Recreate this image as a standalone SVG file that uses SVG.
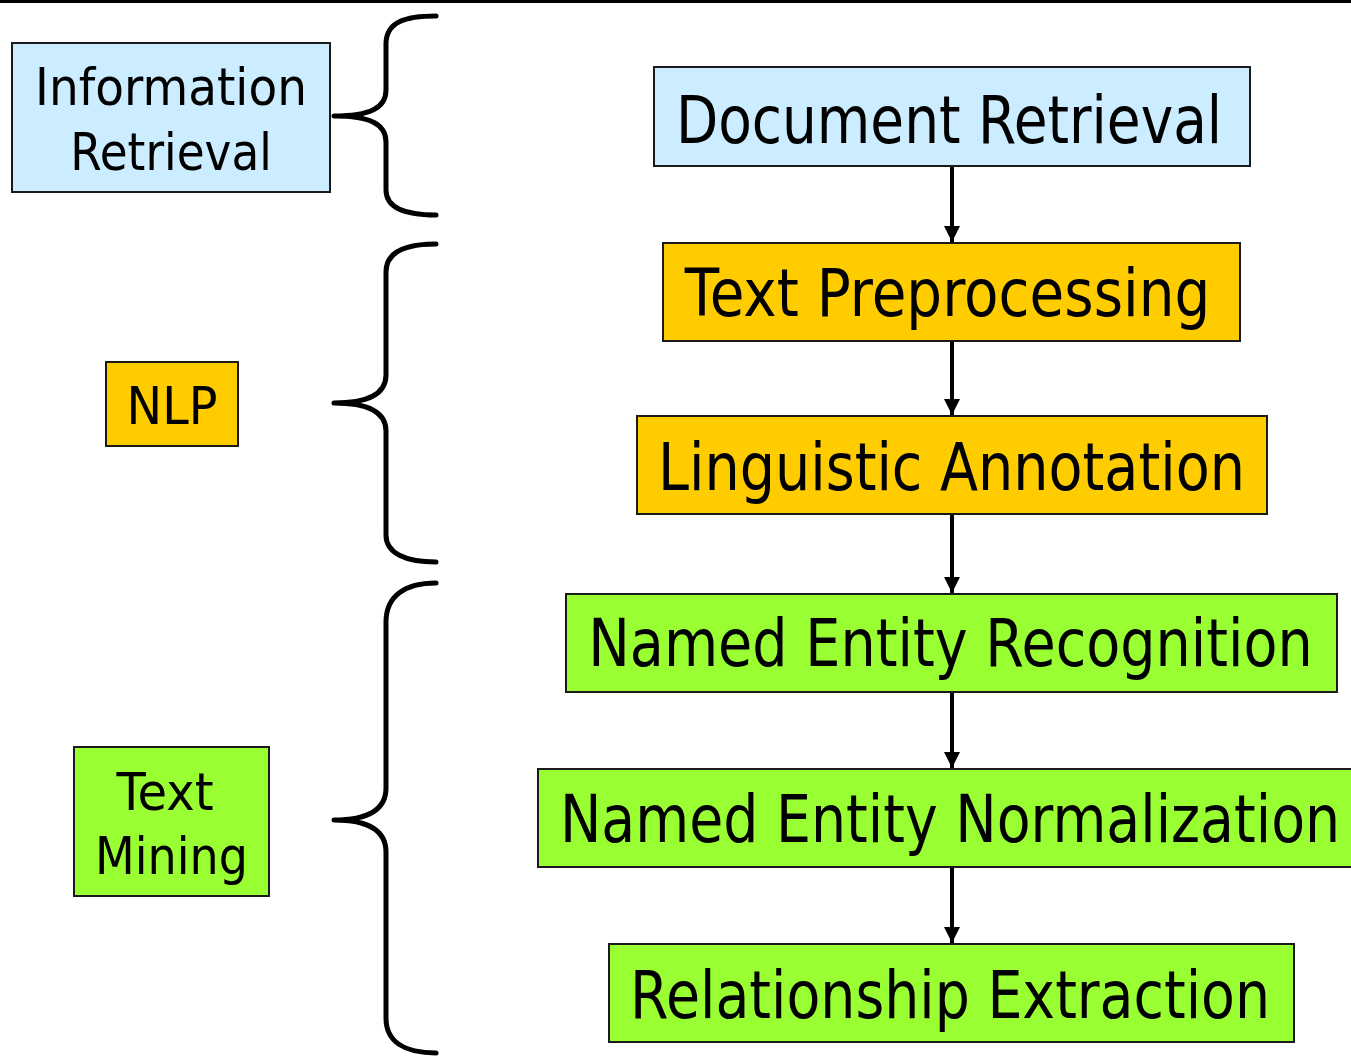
<svg xmlns="http://www.w3.org/2000/svg" width="1351" height="1056" viewBox="0 0 1351 1056">
<style>
.box{stroke:#1a1a1a;stroke-width:2}
.blue{fill:#CCECFF}
.orange{fill:#FFCC00}
.green{fill:#99FF33}
.t{font-family:"DejaVu Sans",sans-serif;fill:#000;text-anchor:middle}
.big{font-size:66px}
.small{font-size:52px}
.brace{fill:none;stroke:#000;stroke-width:5;stroke-linecap:round;stroke-linejoin:round}
.conn{stroke:#000;stroke-width:4;fill:none}
</style>
<defs>
<marker id="ah" markerWidth="16" markerHeight="18" refX="16" refY="8" orient="auto" markerUnits="userSpaceOnUse" viewBox="0 0 16 16">
<path d="M0,0 L16,8 L0,16 Z" fill="#000"/>
</marker>
</defs>
<rect x="0" y="0" width="1351" height="3" fill="#000"/>
<g id="braces">
<path class="brace" d="M436,16 C405,16 386,22 386,44 L386,90 C386,108 370,116 334,116 C370,116 386,124 386,142 L386,190 C386,208 405,215 436,215"/>
<path class="brace" d="M436,244 C405,244 386,252 386,272 L386,375 C386,393 370,403 334,403 C370,403 386,413 386,431 L386,535 C386,553 405,562 436,562"/>
<path class="brace" d="M436,583 C405,583 386,596 386,622 L386,788 C386,808 370,820 334,820 C370,820 386,832 386,852 L386,1018 C386,1042 405,1053 436,1053"/>
</g>
<g id="n-info">
<rect class="box blue" x="12" y="43" width="318" height="149"/>
<text class="t small" transform="translate(171,105) scale(0.9,1)" textLength="302" lengthAdjust="spacingAndGlyphs">Information</text>
<text class="t small" transform="translate(171,170) scale(0.9,1)" textLength="224" lengthAdjust="spacingAndGlyphs">Retrieval</text>
</g>
<g id="n-nlp">
<rect class="box orange" x="106" y="362" width="132" height="84"/>
<text class="t small" transform="translate(172,424) scale(0.9,1)" textLength="101" lengthAdjust="spacingAndGlyphs">NLP</text>
</g>
<g id="n-tm">
<rect class="box green" x="74" y="747" width="195" height="149"/>
<text class="t small" transform="translate(165,810) scale(0.9,1)" textLength="108" lengthAdjust="spacingAndGlyphs">Text</text>
<text class="t small" transform="translate(171.5,874) scale(0.9,1)" textLength="170" lengthAdjust="spacingAndGlyphs">Mining</text>
</g>
<g id="n-doc">
<rect class="box blue" x="654" y="67" width="596" height="99"/>
<text class="t big" transform="translate(949,143) scale(0.83,1)" textLength="658" lengthAdjust="spacingAndGlyphs">Document Retrieval</text>
</g>
<g id="n-pre">
<rect class="box orange" x="663" y="243" width="577" height="98"/>
<text class="t big" transform="translate(947.5,316) scale(0.83,1)" textLength="633" lengthAdjust="spacingAndGlyphs">Text Preprocessing</text>
</g>
<g id="n-ling">
<rect class="box orange" x="637" y="416" width="630" height="98"/>
<text class="t big" transform="translate(951.5,490) scale(0.83,1)" textLength="707" lengthAdjust="spacingAndGlyphs">Linguistic Annotation</text>
</g>
<g id="n-ner">
<rect class="box green" x="566" y="594" width="771" height="98"/>
<text class="t big" transform="translate(950.5,666) scale(0.83,1)" textLength="873" lengthAdjust="spacingAndGlyphs">Named Entity Recognition</text>
</g>
<g id="n-nen">
<rect class="box green" x="538" y="769" width="826" height="98"/>
<text class="t big" transform="translate(950,842) scale(0.83,1)" textLength="940" lengthAdjust="spacingAndGlyphs">Named Entity Normalization</text>
</g>
<g id="n-rel">
<rect class="box green" x="609" y="944" width="685" height="98"/>
<text class="t big" transform="translate(950,1018) scale(0.83,1)" textLength="771" lengthAdjust="spacingAndGlyphs">Relationship Extraction</text>
</g>
<g id="connectors">
<line class="conn" x1="952" y1="167" x2="952" y2="242" marker-end="url(#ah)"/>
<line class="conn" x1="952" y1="342" x2="952" y2="415" marker-end="url(#ah)"/>
<line class="conn" x1="952" y1="515" x2="952" y2="593" marker-end="url(#ah)"/>
<line class="conn" x1="952" y1="693" x2="952" y2="768" marker-end="url(#ah)"/>
<line class="conn" x1="952" y1="868" x2="952" y2="943" marker-end="url(#ah)"/>
</g>
</svg>
